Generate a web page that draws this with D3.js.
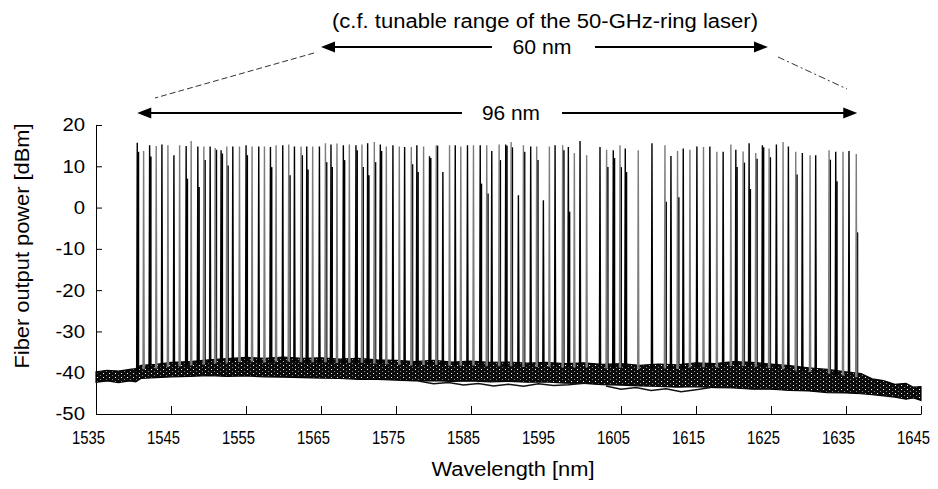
<!DOCTYPE html>
<html>
<head>
<meta charset="utf-8">
<script src="https://cdn.jsdelivr.net/npm/d3@7"></script>
<style>
  body { margin: 0; background: #fff; }
  text { font-family: "Liberation Sans", Arial, sans-serif; fill: #000; }
</style>
</head>
<body>
<svg id="chart" width="938" height="489">
  <defs>
    <pattern id="speck" width="6" height="4" patternUnits="userSpaceOnUse">
      <rect width="6" height="4" fill="#0c0c0c"></rect>
      <rect x="1" y="1" width="1" height="1" fill="#ffffff"></rect>
      <rect x="4" y="3" width="1" height="1" fill="#8a8a8a"></rect>
    </pattern>
  </defs>
</svg>
<script>
// Axis ticks
const xTicks = [1535, 1545, 1555, 1565, 1575, 1585, 1595, 1605, 1615, 1625, 1635, 1645];
const yTicks = [20, 10, 0, -10, -20, -30, -40, -50];

// Lasing channels: peak wavelength [nm] and fiber output power [dBm]
const peakWavelength = [
  1540.50, 1541.35, 1542.15, 1543.03, 1543.79, 1544.59, 1545.39, 1546.15, 1547.02, 1547.69,
  1548.58, 1549.38, 1550.22, 1550.89, 1551.68, 1552.44, 1553.24, 1554.13, 1555.01, 1555.81,
  1556.70, 1557.46, 1558.26, 1559.01, 1559.90, 1560.70, 1561.46, 1562.34, 1563.10, 1563.89,
  1564.79, 1565.59, 1566.33, 1567.13, 1567.98, 1568.78, 1569.66, 1570.46, 1571.22, 1572.11,
  1572.91, 1573.71, 1574.59, 1575.44, 1576.15, 1577.04, 1577.78, 1578.68, 1579.47, 1580.37,
  1581.25, 1582.14, 1582.90, 1583.64, 1584.53, 1585.33, 1586.23, 1587.10, 1587.77, 1588.75,
  1589.63, 1590.35, 1591.32, 1591.99, 1592.96, 1593.76, 1594.65, 1595.45, 1596.21, 1597.22,
  1597.98, 1598.78, 1599.54, 1600.42, 1602.20, 1603.08, 1603.97, 1604.87, 1605.57, 1607.30,
  1609.13, 1610.86, 1611.66, 1612.54, 1613.30, 1614.19, 1615.12, 1616.00, 1616.85, 1617.78,
  1618.62, 1619.65, 1620.31, 1621.28, 1622.08, 1622.97, 1623.85, 1624.75, 1625.72, 1626.61,
  1627.32, 1628.30, 1629.18, 1630.21, 1630.96, 1632.74, 1633.63, 1634.60, 1635.40, 1636.37
];
const peakPower = [
  15.7, 13.7, 15.1, 14.9, 15.3, 15.1, 12.7, 15.1, 14.9, 16.1,
  14.8, 14.8, 14.8, 14.4, 13.9, 14.8, 14.8, 14.8, 15.1, 14.8,
  14.8, 14.8, 14.7, 15.1, 15.1, 15.3, 14.8, 14.8, 14.8, 14.8,
  14.8, 15.6, 15.3, 15.5, 15.1, 15.3, 15.1, 15.3, 15.6, 15.9,
  15.3, 14.8, 15.1, 14.8, 14.7, 14.7, 15.1, 14.8, 12.4, 15.1,
  8.6, 15.1, 15.1, 14.8, 15.1, 15.1, 15.1, 15.1, 13.7, 15.3,
  15.3, 15.9, 3.0, 15.1, 14.8, 14.8, 1.8, 14.8, 15.1, 15.1,
  14.7, 13.2, 16.1, 12.7, 14.7, 14.0, 13.9, 15.1, 14.3, 13.9,
  15.6, 15.1, 12.5, 13.7, 14.3, 14.0, 14.8, 14.7, 14.8, 13.5,
  13.5, 15.3, 14.0, 13.6, 15.6, 13.2, 15.1, 14.3, 15.3, 15.9,
  14.8, 13.5, 13.2, 12.7, 12.7, 13.9, 13.5, 13.5, 13.7, 13.0
];
// Level of the last sampled point on the neighbouring trace's flank [dBm] (null: none visible)
const peakShoulder = [
  13.5, null, 12.4, null, null, null, null, null, 7.0, null,
  5.0, 11.5, null, 14.0, 13.1, 10.2, null, null, 12.7, null,
  null, null, 9.8, null, null, 7.8, null, 12.7, 9.2, null,
  null, 11.0, 9.8, null, 11.5, null, 13.9, 9.8, 7.8, 11.0,
  13.7, null, null, null, null, 10.5, 8.6, null, 12.0, 15.0,
  null, null, null, null, null, null, 5.8, 3.4, null, 11.5,
  15.0, 14.6, null, 13.5, null, 11.5, null, null, null, 13.9,
  -1.0, null, null, null, null, 9.8, 12.0, 9.8, 8.6, null,
  null, 1.4, null, 2.5, null, null, null, null, null, null,
  null, null, 9.8, 10.9, 4.5, 11.8, 14.6, 12.2, null, null,
  null, 8.0, null, null, null, 11.6, 6.4, null, null, -6.0
];

// ASE floor of the overlaid spectra: upper and lower edge [dBm]
const floorWavelength = [1535, 1536.5, 1538, 1539.5, 1540.3, 1541, 1543, 1545, 1547.5, 1550, 1552.5, 1555,
  1557.5, 1560, 1562.5, 1565, 1567.5, 1570, 1572.5, 1575, 1577.5, 1580, 1582.5, 1585, 1587.5, 1590,
  1592.5, 1595, 1597.5, 1600, 1602.5, 1605, 1607.5, 1610, 1612.5, 1615, 1617.5, 1620, 1622.5, 1625,
  1627.5, 1630, 1632.5, 1635, 1637, 1638.5, 1640, 1641.5, 1643, 1644, 1645];
const floorUpper = [-39.8, -39.4, -39.6, -39.2, -39.0, -38.2, -38.0, -37.5, -37.3, -36.9, -36.6, -36.3,
  -36.5, -36.2, -36.5, -36.4, -36.7, -36.5, -36.9, -37.0, -37.3, -37.0, -37.4, -37.2, -37.5, -37.4,
  -37.7, -37.5, -37.8, -37.6, -38.0, -37.8, -38.2, -37.9, -38.1, -37.6, -37.8, -37.3, -37.5, -37.9,
  -38.3, -38.8, -39.2, -39.8, -40.2, -41.5, -41.9, -42.8, -42.6, -43.5, -43.4];
const floorLower = [-42.3, -42.0, -42.4, -42.0, -42.2, -41.4, -41.2, -41.0, -40.9, -40.7, -40.9, -40.8,
  -41.0, -41.1, -41.2, -41.3, -41.4, -41.6, -41.6, -41.8, -42.0, -41.9, -42.1, -42.0, -42.2, -42.1,
  -42.3, -42.2, -42.5, -42.6, -42.9, -43.0, -43.2, -43.3, -43.5, -43.4, -43.6, -43.7, -44.0, -44.0,
  -44.3, -44.4, -44.8, -44.9, -45.1, -45.3, -45.6, -45.9, -46.4, -46.1, -46.7];

// Weaker traces that run below the floor band
const strayWavelength1 = [1578, 1580, 1582, 1584, 1586, 1588, 1590, 1592, 1594, 1596, 1598, 1600.5];
const strayPower1 = [-42.0, -42.7, -42.4, -43.0, -42.6, -43.2, -42.8, -43.3, -42.7, -43.1, -42.9, -42.5];
const strayWavelength2 = [1603, 1605, 1607, 1609, 1611, 1613, 1615, 1617];
const strayPower2 = [-43.2, -44.0, -43.6, -44.3, -43.9, -44.6, -44.1, -43.6];

// Annotations
const spanWide = [1540.5, 1636.5];   // 96 nm
const spanRing = [1565.0, 1624.6];   // 60 nm

const svg = d3.select("#chart");
const x = d3.scaleLinear().domain([1535, 1645]).range([96, 921]);
const y = d3.scaleLinear().domain([-50, 20]).range([414, 125]);
const line = d3.line().x(d => x(d[0])).y(d => y(d[1]));

// floor band
const floorData = floorWavelength.map((w, i) => ({ w, hi: floorUpper[i], lo: floorLower[i] }));
svg.append("path")
  .datum(floorData)
  .attr("d", d3.area().x(d => x(d.w)).y0(d => y(d.lo)).y1(d => y(d.hi)))
  .attr("fill", "url(#speck)")
  .attr("stroke", "#000").attr("stroke-width", 1.2);

const floorAt = d3.scaleLinear().domain(floorWavelength).range(floorUpper);

[[strayWavelength1, strayPower1], [strayWavelength2, strayPower2]].forEach(([ws, ps]) => {
  svg.append("path")
    .attr("d", line(ws.map((w, i) => [w, ps[i]])))
    .attr("fill", "none").attr("stroke", "#111").attr("stroke-width", 1.5);
});

const peaks = peakWavelength.map((w, i) => ({ w, p: peakPower[i], s: peakShoulder[i], i }));

// flank samples of the neighbouring traces
svg.append("g").selectAll("path")
  .data(peaks.filter(d => d.s !== null))
  .join("path")
  .attr("d", d => line([[d.w + 0.16, floorAt(d.w) - 1], [d.w + 0.16, d.s]]))
  .attr("fill", "none").attr("stroke", "#000").attr("stroke-width", 1.6);

// lasing peaks, one spectrum per channel
svg.append("g").selectAll("path")
  .data(peaks)
  .join("path")
  .attr("d", d => line([[d.w - 0.08, floorAt(d.w) - 1], [d.w, d.p], [d.w + 0.08, floorAt(d.w) - 1]]))
  .attr("fill", "none")
  .attr("stroke", d => d.i % 2 ? "#7c7c7c" : "#000")
  .attr("stroke-width", 1.4);

// axes
const xAxis = d3.axisBottom(x).tickValues(xTicks).tickFormat(d => String(d))
  .tickSizeInner(-8).tickSizeOuter(0).tickPadding(17);
const gx = svg.append("g").attr("transform", "translate(0,414)").call(xAxis);
gx.selectAll(".tick").filter(d => d === 1595).select("line").remove();
gx.selectAll("text").attr("font-size", 18).attr("textLength", 33)
  .attr("lengthAdjust", "spacingAndGlyphs").attr("dx", -8);

const yAxis = d3.axisLeft(y).tickValues(yTicks).tickFormat(d => String(d))
  .tickSizeInner(-6).tickSizeOuter(0).tickPadding(11);
const gy = svg.append("g").attr("transform", "translate(96,0)").call(yAxis);
gy.selectAll("text").attr("font-size", 18.5)
  .each(function () {
    d3.select(this).attr("textLength", this.getComputedTextLength() * 1.1)
      .attr("lengthAdjust", "spacingAndGlyphs");
  });
svg.selectAll(".domain, .tick line").attr("stroke", "#000").attr("stroke-width", 1);
svg.selectAll(".tick text").attr("fill", "#000").attr("font-family", "Liberation Sans, Arial, sans-serif");

// axis titles
svg.append("text").attr("x", 513).attr("y", 476).attr("text-anchor", "middle")
  .attr("font-size", 20).attr("textLength", 163).attr("lengthAdjust", "spacingAndGlyphs")
  .text("Wavelength [nm]");
svg.append("text").attr("transform", "translate(29,246) rotate(-90)").attr("text-anchor", "middle")
  .attr("font-size", 21).attr("textLength", 245).attr("lengthAdjust", "spacingAndGlyphs")
  .text("Fiber output power [dBm]");

// range arrows
function arrow(x0, x1, yy, textX, label, width, gapL, gapR) {
  const g = svg.append("g");
  g.append("line").attr("x1", x0 + 10).attr("x2", gapL).attr("y1", yy).attr("y2", yy)
    .attr("stroke", "#000").attr("stroke-width", 2);
  g.append("line").attr("x1", gapR).attr("x2", x1 - 10).attr("y1", yy).attr("y2", yy)
    .attr("stroke", "#000").attr("stroke-width", 2);
  g.append("path").attr("d", `M${x0},${yy} l14,-5.5 l0,11 z`).attr("fill", "#000");
  g.append("path").attr("d", `M${x1},${yy} l-14,-5.5 l0,11 z`).attr("fill", "#000");
  g.append("text").attr("x", textX).attr("y", yy + 7).attr("text-anchor", "middle")
    .attr("font-size", 20).attr("textLength", width).attr("lengthAdjust", "spacingAndGlyphs")
    .text(label);
}
arrow(x(spanRing[0]), x(spanRing[1]), 47, 542, "60 nm", 59, 492, 595);
arrow(x(spanWide[0]), x(spanWide[1]), 113, 511, "96 nm", 58, 462, 562);

// guide lines from the 60 nm span down to the 96 nm span
svg.append("line").attr("x1", x(spanRing[0]) - 7).attr("y1", 53).attr("x2", 155).attr("y2", 98)
  .attr("stroke", "#333").attr("stroke-width", 1).attr("stroke-dasharray", "6,3");
svg.append("line").attr("x1", x(spanRing[1]) + 10).attr("y1", 57).attr("x2", 847).attr("y2", 89)
  .attr("stroke", "#333").attr("stroke-width", 1).attr("stroke-dasharray", "7,3,2,3");

svg.append("text").attr("x", 545).attr("y", 28).attr("text-anchor", "middle")
  .attr("font-size", 20).attr("textLength", 426).attr("lengthAdjust", "spacingAndGlyphs")
  .text("(c.f. tunable range of the 50-GHz-ring laser)");
</script>
</body>
</html>
